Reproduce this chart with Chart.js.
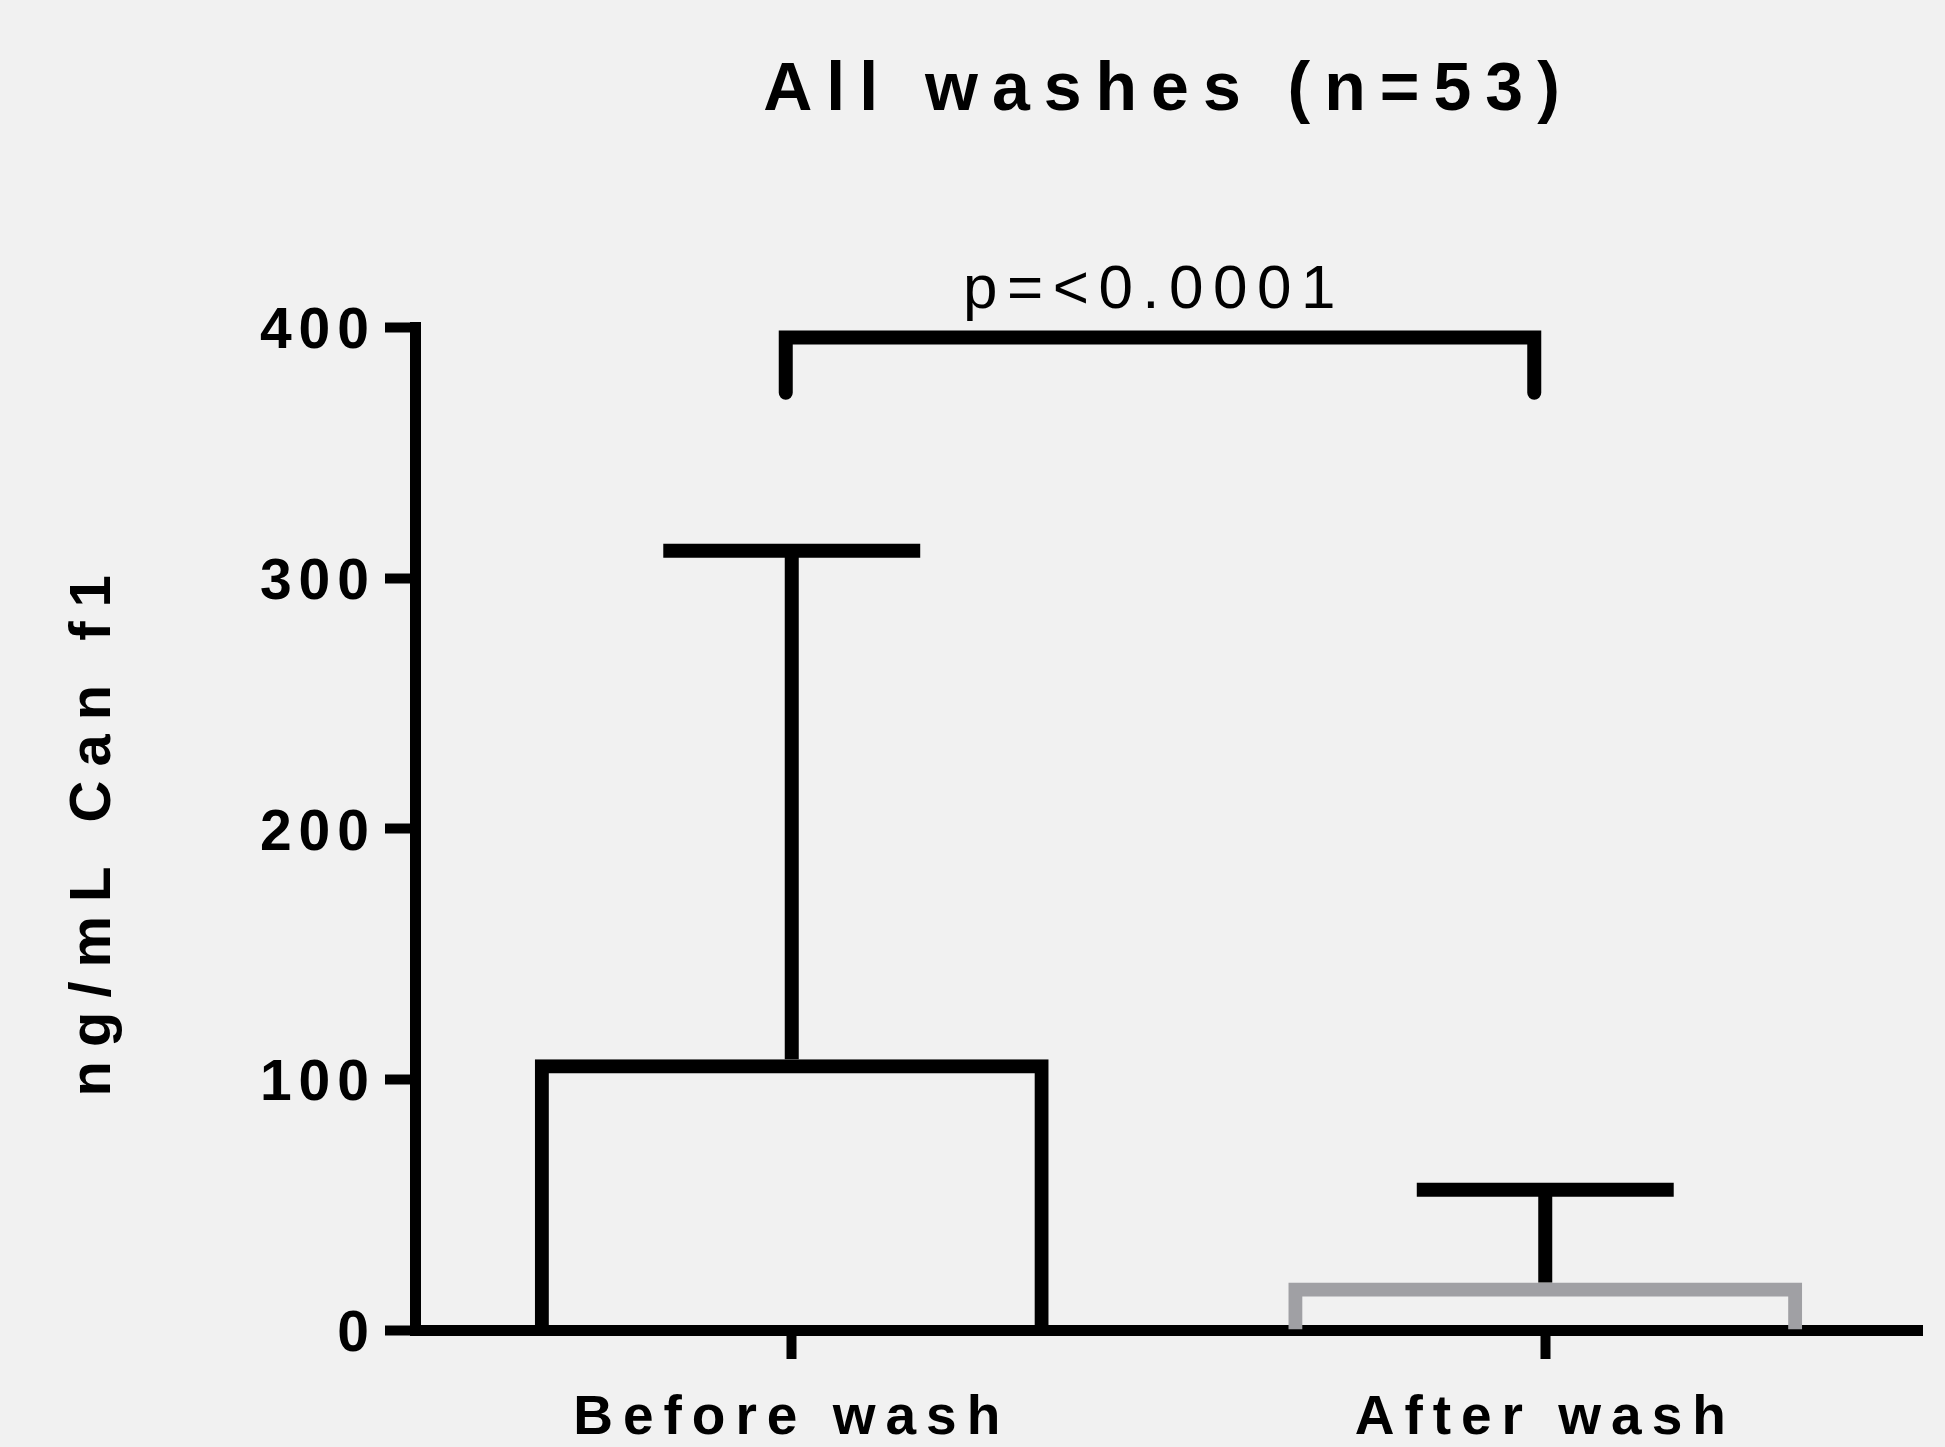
<!DOCTYPE html>
<html lang="en">
<head>
<meta charset="UTF-8">
<title>All washes (n=53)</title>
<script src="https://cdn.jsdelivr.net/npm/chart.js@4"></script>
<style>
  html, body { margin: 0; padding: 0; background: #f1f1f1; }
  canvas { display: block; }
</style>
</head>
<body>
<canvas id="myChart" width="1945" height="1447"></canvas>
<script>
// data
const groups = ['Before wash', 'After wash'];
const means = [108, 19];        // bar height (mean)
const upperSD = [311, 56];      // top of the error bar
const yTicks = [0, 100, 200, 300, 400];
const pLabel = 'p=<0.0001';

const FONT = '"Liberation Sans", Arial, sans-serif';
// letter spacing per font size (px), every text in the original is spread out
const SPACINGS = { 68: 14, 58: 14, 57: 7, 55: 10, 62: 9.5 };

function spacingFor(font) {
  const m = /(\d+(\.\d+)?)px/.exec(font);
  return (m && SPACINGS[Math.round(m[1])]) || 0;
}

const letterSpacing = {
  id: 'letterSpacing',
  beforeInit(chart) {
    const c = chart.ctx;
    const proto = CanvasRenderingContext2D.prototype;
    c.fillText = function (t, x, y, w) {
      this.letterSpacing = spacingFor(this.font) + 'px';
      return w === undefined ? proto.fillText.call(this, t, x, y) : proto.fillText.call(this, t, x, y, w);
    };
    c.measureText = function (t) {
      this.letterSpacing = spacingFor(this.font) + 'px';
      return proto.measureText.call(this, t);
    };
  },
  beforeDraw(chart) {
    const ctx = chart.ctx;
    ctx.save();
    ctx.fillStyle = '#f1f1f1';
    ctx.fillRect(0, 0, chart.width, chart.height);
    ctx.restore();
  }
};

// SD bars and significance bracket
const errorBars = {
  id: 'errorBars',
  afterDatasetsDraw(chart) {
    const ctx = chart.ctx;
    const y = chart.scales.y;
    const bars = chart.getDatasetMeta(0).data;
    ctx.save();
    ctx.strokeStyle = '#000';
    ctx.lineWidth = 14;
    ctx.lineCap = 'butt';
    bars.forEach((bar, i) => {
      const top = y.getPixelForValue(upperSD[i]);
      const base = y.getPixelForValue(means[i]);
      const half = bar.width / 4;
      ctx.beginPath();
      ctx.moveTo(bar.x, base);
      ctx.lineTo(bar.x, top);
      ctx.moveTo(bar.x - half, top);
      ctx.lineTo(bar.x + half, top);
      ctx.stroke();
    });

    // bracket between the two groups
    const x0 = bars[0].x - 6, x1 = bars[1].x - 11;
    const yTop = y.getPixelForValue(396), yLeg = y.getPixelForValue(374);
    ctx.lineCap = 'round';
    ctx.lineJoin = 'miter';
    ctx.beginPath();
    ctx.moveTo(x0, yLeg);
    ctx.lineTo(x0, yTop);
    ctx.lineTo(x1, yTop);
    ctx.lineTo(x1, yLeg);
    ctx.stroke();

    ctx.fillStyle = '#000';
    ctx.font = '62px ' + FONT;
    ctx.textAlign = 'center';
    ctx.textBaseline = 'alphabetic';
    ctx.fillText(pLabel, (x0 + x1) / 2 - 6, yTop - 30);
    ctx.restore();
  }
};

const ctx = document.getElementById('myChart').getContext('2d');
const myChart = new Chart(ctx, {
  type: 'bar',
  data: {
    labels: groups,
    datasets: [{
      data: means,
      backgroundColor: 'rgba(0,0,0,0)',
      borderColor: ['#000000', '#a0a0a4'],
      borderWidth: 14,
      borderSkipped: 'start',
      categoryPercentage: 1,
      barPercentage: 0.682
    }]
  },
  options: {
    responsive: false,
    animation: false,
    layout: { padding: { top: 0, right: 23, bottom: 0, left: 0 } },
    plugins: {
      legend: { display: false },
      tooltip: { enabled: false },
      title: {
        display: true,
        fullSize: false,
        text: 'All washes (n=53)',
        color: '#000',
        font: { family: FONT, size: 68, weight: 'bold' },
        padding: { top: 50, bottom: 196 }
      }
    },
    scales: {
      x: {
        offset: true,
        grid: { drawOnChartArea: false, offset: false, tickLength: 29, tickWidth: 10, tickColor: '#000' },
        border: { display: true, width: 11, color: '#000' },
        ticks: { color: '#000', font: { family: FONT, size: 55, weight: 'bold' }, padding: 27 },
        afterFit(s) { s.height = 117; }
      },
      y: {
        min: 0,
        max: 400,
        afterBuildTicks(s) { s.ticks = yTicks.map(v => ({ value: v })); },
        grid: { drawOnChartArea: false, tickLength: 30, tickWidth: 10, tickColor: '#000' },
        border: { display: true, width: 11, color: '#000' },
        ticks: { color: '#000', font: { family: FONT, size: 57, weight: 'bold' }, padding: 9, labelOffset: 5 },
        title: {
          display: true,
          text: 'ng/mL Can f1',
          color: '#000',
          font: { family: FONT, size: 58, weight: 'bold' },
          padding: { top: 59, bottom: 0 }
        },
        afterFit(s) { s.width = 415; }
      }
    }
  },
  plugins: [letterSpacing, errorBars]
});
</script>
</body>
</html>
